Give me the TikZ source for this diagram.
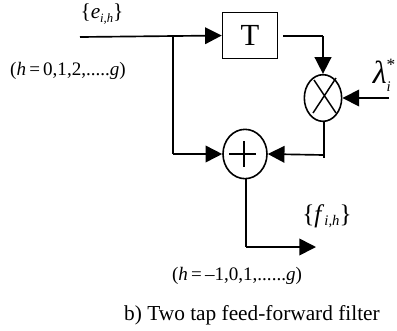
\documentclass[tikz,border=0pt]{standalone}
\usepackage{fontspec}
\setmainfont{Liberation Serif}
\usetikzlibrary{arrows.meta,shapes.geometric}
\tikzset{
  wire/.style={line width=1.25pt,draw=black},
  flow/.style={wire,-{Triangle[length=12.5pt,width=12.5pt]}},
  opnode/.style={draw=black,line width=1.2pt,ellipse,inner sep=0pt,fill=none},
  lab/.style={inner sep=0pt,font=\fontsize{14.3}{14.3}\selectfont},
}
\begin{document}
\begin{tikzpicture}[x=0.75pt,y=-0.75pt]
\useasboundingbox (0,0) rectangle (397,330);
\node[draw=black,line width=1.1pt,minimum width=41.25pt,minimum height=34.5pt,inner sep=0pt,font=\fontsize{23}{23}\selectfont] (T) at (250,35.5) {T};
\node[opnode,minimum width=28pt,minimum height=35pt] (M) at (323,98) {};
\node[opnode,minimum width=33pt,minimum height=37pt] (P) at (245,154) {};
\coordinate (in) at (80,37);
\coordinate (br) at (173,37);
\coordinate (brd) at (173,154);
\coordinate (tout) at (283,36);
\coordinate (tc) at (323,36);
\coordinate (lam) at (389,98);
\coordinate (mj) at (324,158);
\coordinate (mk) at (324,155);
\coordinate (oc) at (246,247);
\coordinate (oe) at (316,247);
% operator glyphs
\draw[line width=1.1pt] (313,113) -- (336,78) (314,80) -- (336,113);
\draw[line width=1.1pt] (229,154) -- (256,154) (244,141) -- (244,167);
% connectors
\draw[flow] (in) -- (T.west);
\draw[wire] (br) -- (brd);
\draw[flow] (brd) -- (P.west);
\draw[wire] (tout) -- (tc);
\draw[flow] (tc) -- (M.north);
\draw[flow] (lam) -- (M.east);
\draw[wire] (M.south -| mj) -- (mj);
\draw[flow] (mk) -- (P.east);
\draw[wire] (P.south -| oc) -- (oc);
\draw[flow] (oc) -- (oe);
% labels
\node[lab,font=\fontsize{16}{16}\selectfont] (l1) at (102,14) {\{\textit{e}\raisebox{-2.5pt}{\fontsize{9.5}{9.5}\selectfont\textit{i,h}}\}};
\node[lab] (l2) at (68,71) {(\textit{h}\,=\,0,1,2,.....\textit{g})};
\node[lab,font=\fontsize{24}{24}\selectfont] (l3) at (381,75) {\textit{λ}\rlap{\raisebox{10pt}{\fontsize{13}{13}\selectfont *}}\rlap{\raisebox{-6pt}{\fontsize{11}{11}\selectfont\textit{i}}}\phantom{\fontsize{7}{7}\selectfont i}};
\node[lab,font=\fontsize{19}{19}\selectfont] (l4) at (327,216) {\{\textit{f}\raisebox{-2.5pt}{\fontsize{11}{11}\selectfont\textit{i,h}}\}};
\node[lab] (l5) at (237,276) {(\textit{h}\,=\,--1,0,1,......\textit{g})};
\node[lab,font=\fontsize{16}{16}\selectfont] (l6) at (252,315) {b) Two tap feed-forward filter};
\end{tikzpicture}
\end{document}
